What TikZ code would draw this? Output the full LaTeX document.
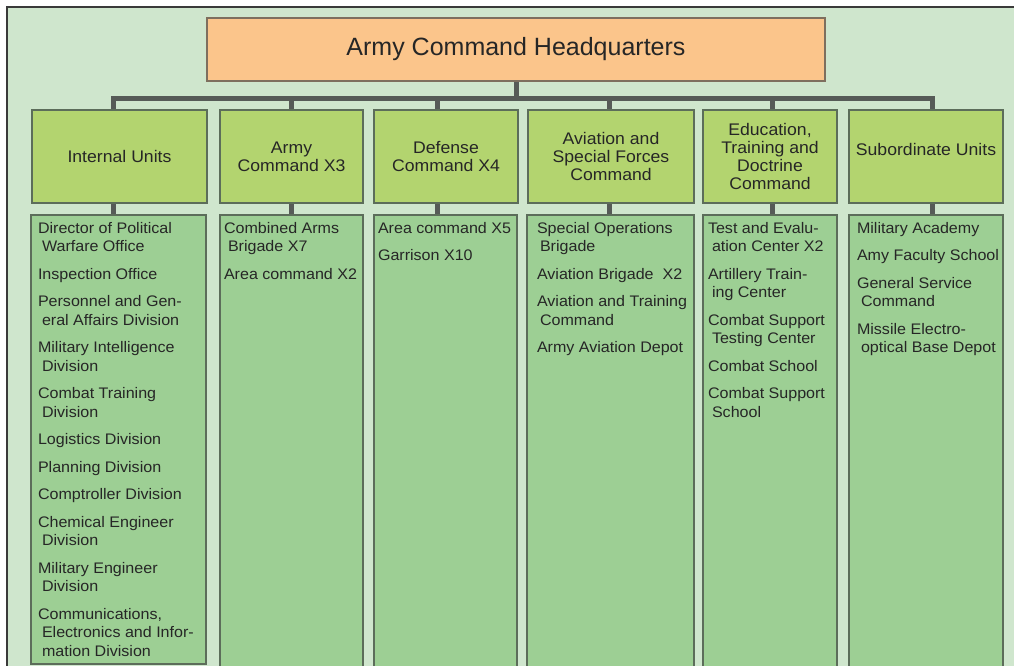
\documentclass[tikz,border=0pt]{standalone}
\usepackage{fontspec}
\setmainfont{Liberation Sans}[FakeStretch=1.05]
\newfontfamily\hqfont{Liberation Sans}
\definecolor{bggreen}{HTML}{CFE6CD}
\definecolor{topfill}{HTML}{B3D46F}
\definecolor{botfill}{HTML}{9DCF94}
\definecolor{hqfill}{HTML}{FBC58B}
\definecolor{hqline}{HTML}{7E6F5E}
\definecolor{boxline}{HTML}{5C6D5A}
\definecolor{conncol}{HTML}{565B57}
\definecolor{framecol}{HTML}{3A3A3A}
\definecolor{txt}{HTML}{262626}
\pgfdeclarelayer{bg}
\pgfsetlayers{bg,main}
\begin{document}
\begin{tikzpicture}[x=1pt,y=-1pt,
  topbox/.style={draw=boxline, fill=topfill, line width=1.1pt, inner sep=0pt, outer sep=0pt, minimum height=93pt, align=center, text=txt, font=\fontsize{16.8}{18}\selectfont},
  botbox/.style={draw=boxline, fill=botfill, line width=1.1pt, inner sep=0pt, outer sep=0pt},
  itemtext/.style={anchor=north west, inner sep=0pt, outer sep=0pt, align=left, text=txt, font=\fontsize{15.3}{18.5}\selectfont},
  conn/.style={draw=conncol, line width=5pt}]
\useasboundingbox (0,0) rectangle (1014,666);
\begin{pgfonlayer}{bg}
\fill[white] (0,0) rectangle (1014,666);
\fill[bggreen] (7,7) rectangle (1014,666);
\draw[framecol, line width=1.6pt] (7,666) -- (7,7) -- (1014,7);
\end{pgfonlayer}

% headquarters
\node[draw=hqline, fill=hqfill, line width=1.1pt, inner sep=0pt, outer sep=0pt,
  minimum width=618pt, minimum height=63pt, text=txt,
  font=\hqfont\fontsize{25}{28}\selectfont] (hq) at (516,49.5) {Army Command Headquarters};

% top boxes
\node[topbox, minimum width=175pt] (t1) at (119.5,156.5) {Internal Units};
\node[topbox, minimum width=143pt] (t2) at (291.5,156.5) {Army\\Command X3};
\node[topbox, minimum width=144pt] (t3) at (446,156.5) {Defense\\Command X4};
\node[topbox, minimum width=166pt] (t4) at (611,156.5) {Aviation and\\Special Forces\\Command};
\node[topbox, minimum width=134pt] (t5) at (770,156.5) {Education,\\Training and\\Doctrine\\Command};
\node[topbox, minimum width=154pt] (t6) at (926,156.5) {\raisebox{7pt}[\height][\depth]{Subordinate Units}};

% bottom boxes
\node[botbox, minimum width=175pt, minimum height=449pt] (b1) at (118.5,439.5) {};
\node[botbox, minimum width=143pt, minimum height=460pt] (b2) at (291.5,445) {};
\node[botbox, minimum width=143pt, minimum height=460pt] (b3) at (445.5,445) {};
\node[botbox, minimum width=167pt, minimum height=460pt] (b4) at (610.5,445) {};
\node[botbox, minimum width=134pt, minimum height=460pt] (b5) at (770,445) {};
\node[botbox, minimum width=154pt, minimum height=460pt] (b6) at (926,445) {};

% item lists
\node[itemtext] (l1) at (38,222) {Director of Political\\\hspace*{4pt}Warfare Office\\[9pt]Inspection Office\\[9pt]Personnel and Gen-\\\hspace*{4pt}eral Affairs Division\\[9pt]Military Intelligence\\\hspace*{4pt}Division\\[9pt]Combat Training\\\hspace*{4pt}Division\\[9pt]Logistics Division\\[9pt]Planning Division\\[9pt]Comptroller Division\\[9pt]Chemical Engineer\\\hspace*{4pt}Division\\[9pt]Military Engineer\\\hspace*{4pt}Division\\[9pt]Communications,\\\hspace*{4pt}Electronics and Infor-\\\hspace*{4pt}mation Division};
\node[itemtext] (l2) at (224,222) {Combined Arms\\\hspace*{4pt}Brigade X7\\[9pt]Area command X2};
\node[itemtext] (l3) at (378,222) {Area command X5\\[9pt]Garrison X10};
\node[itemtext] (l4) at (537,222) {Special Operations\\\hspace*{3pt}Brigade\\[9pt]Aviation Brigade\ \ X2\\[9pt]Aviation and Training\\\hspace*{3pt}Command\\[9pt]Army Aviation Depot};
\node[itemtext] (l5) at (708,222) {Test and Evalu-\\\hspace*{4pt}ation Center X2\\[9pt]Artillery Train-\\\hspace*{4pt}ing Center\\[9pt]Combat Support\\\hspace*{4pt}Testing Center\\[9pt]Combat School\\[9pt]Combat Support\\\hspace*{4pt}School};
\node[itemtext] (l6) at (857,222) {Military Academy\\[9pt]Amy Faculty School\\[9pt]General Service\\\hspace*{4pt}Command\\[9pt]Missile Electro-\\\hspace*{4pt}optical Base Depot};

% stem positions
\coordinate (s1) at (113,0);
\coordinate (s2) at (291,0);
\coordinate (s3) at (437,0);
\coordinate (s4) at (609,0);
\coordinate (s5) at (772,0);
\coordinate (s6) at (932,0);

\begin{pgfonlayer}{bg}
\foreach \i in {1,...,6}{
  \draw[conn] (hq.south) -- ++(0,18) -| (t\i.north -| s\i);
  \draw[conn] (t\i.south -| s\i) -- (b\i.north -| s\i);
}
\end{pgfonlayer}
\end{tikzpicture}
\end{document}
